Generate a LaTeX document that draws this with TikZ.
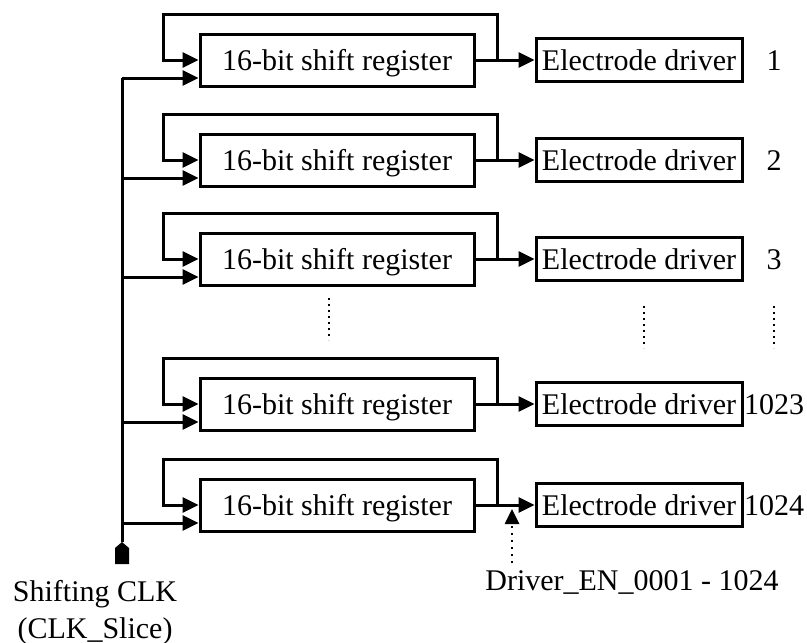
\documentclass[tikz,border=0pt]{standalone}
\usepackage{fontspec}
\setmainfont{Liberation Serif}
\usetikzlibrary{arrows.meta,calc,positioning}
\tikzset{
  regbox/.style={draw,line width=3pt,minimum width=274pt,minimum height=52pt,inner sep=0pt},
  drvbox/.style={draw,line width=3pt,minimum width=206pt,minimum height=43pt,inner sep=0pt},
  wire/.style={line width=3pt},
  arr/.style={-{Triangle[length=16pt,width=15pt]}},
  dotline/.style={line width=2.2pt,dash pattern=on 2pt off 4pt},
  every node/.style={font=\fontsize{30}{32}\selectfont,text height=20pt,text depth=0pt}
}

\begin{document}
\begin{tikzpicture}[x=1pt,y=-1pt]
\useasboundingbox (0,0) rectangle (807,643);
% one row per register / driver pair
\foreach \i/\y/\n in {1/60/1,2/160/2,3/259/3,4/404/1023,5/505/1024}{
  \node[regbox] (reg\i) at (337,\y) {16-bit shift register};
  \node[drvbox] (drv\i) at (639,\y) {Electrode driver};
  \node (num\i) at (774,\y) {\n};
  \coordinate (fb\i) at ($(reg\i.east)+(22,0)$);
  \coordinate (clk\i) at ($(reg\i.west)+(0,18)$);
  \draw[wire,arr] (reg\i.east) -- (drv\i.west);
  \draw[wire,arr] (fb\i) -- ++(0,-46) -| ($(reg\i.west)+(-35,0)$) -- (reg\i.west);
  \draw[wire,arr] (122,\y+18) -- (clk\i);
}
% clock bus and input pin
\coordinate (pin) at (122,542);
\draw[wire] (122,78) -- (pin);
\fill (pin) -- ++(7,6) -- ++(0,16) -- ++(-14,0) -- ++(0,-16) -- cycle;
\node (clklbl) at (95,591) {Shifting CLK};
\node (clkname) at (95,628) {(CLK\_Slice)};
% driver enable
\node (en) at (632,580) {Driver\_EN\_0001 - 1024};
\coordinate (enbot) at (512,563);
\coordinate (entip) at (512,509);
\draw[line width=2.6pt,dash pattern=on 2pt off 5pt,-{Triangle[length=15pt,width=14pt]}] (enbot) -- (entip);
% vertical ellipsis
\draw[dotline] (329,298) -- (329,340);
\draw[dotline] (644,306) -- (644,348);
\draw[dotline] (774,306) -- (774,348);
\end{tikzpicture}
\end{document}
